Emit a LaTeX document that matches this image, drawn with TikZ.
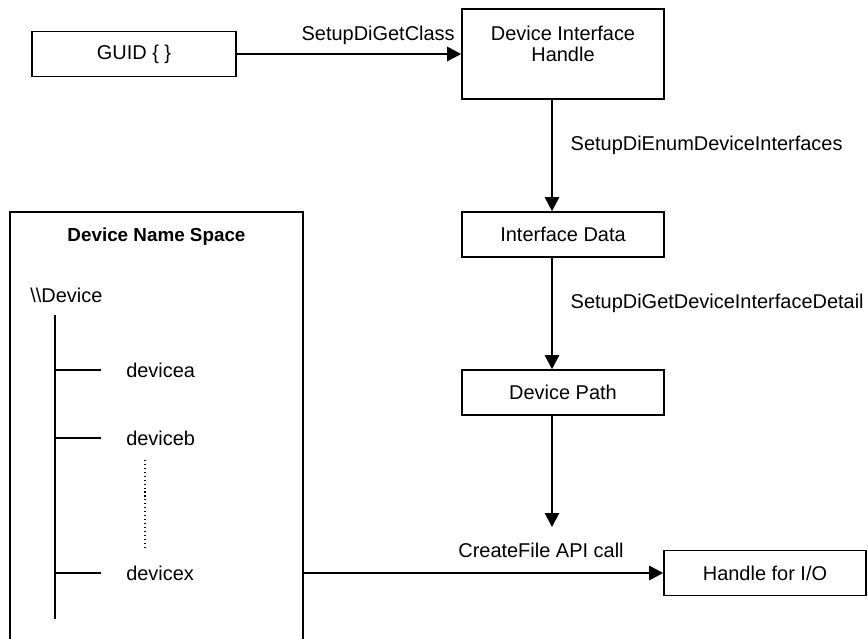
\documentclass[tikz,border=0pt]{standalone}
\usepackage{fontspec}
\setmainfont{Liberation Sans}
\usepackage{tikz}
\usetikzlibrary{positioning,arrows.meta}
\tikzstyle{block}=[draw, line width=1.2pt, minimum width=5.05cm, minimum height=1.125cm, inner sep=0pt]
\tikzstyle{flow}=[-{Triangle[length=0.35cm,width=0.36cm]}, line width=1.2pt]
\tikzstyle{entry}=[anchor=west, inner sep=0pt]
\tikzstyle{branch}=[line width=1.2pt]

\begin{document}
\begin{tikzpicture}[font=\fontsize{14.2}{15.6}\selectfont]
    \useasboundingbox (0,0) rectangle (21.7,15.95);

    \node[block, minimum width=5.1cm] (guid) at (3.35,14.6) {GUID \{ \}};
    \node[block, minimum height=2.25cm, align=center] (dih) at (14.075,14.6) {Device Interface\\Handle\\[-1pt]\mbox{}};
    \node[block] (idata) at (14.075,10.0875) {Interface Data};
    \node[block] (dpath) at (14.075,6.1375) {Device Path};
    \node[block] (hio) at (19.125,1.625) {Handle for I/O};
    \coordinate (cfend) at (13.8,2.775);

    % name space box, runs off the bottom of the page
    \node[draw, line width=1.2pt, minimum width=7.325cm, minimum height=11cm] (dns) at (3.9125,5.15) {};
    \node[font=\fontsize{13.4}{16}\selectfont\bfseries] (title) at ([yshift=-0.625cm]dns.north) {Device Name Space};
    \node[entry] (root) at (0.75,8.575) {\textbackslash\textbackslash Device};
    \node[entry] (devicea) at (3.15,6.7) {devicea};
    \node[entry] (deviceb) at (3.15,5.0) {deviceb};
    \node[entry] (devicex) at (3.15,1.625) {devicex};

    \coordinate (trunk) at (1.375,8.075);
    \draw[branch] (trunk) -- (1.375,0.475);
    \foreach \d in {devicea,deviceb,devicex}
        \draw[branch] (\d.west -| trunk) -- ([xshift=-0.625cm]\d.west);
    \draw[dotted, line width=0.8pt] (3.625,4.45) -- (3.625,2.275);

    \draw[flow] (guid) -- node[pos=0.63, above=0.1cm] {SetupDiGetClass} (dih);
    \draw[flow] ([xshift=-0.275cm]dih.south) -- node[pos=0.41, right=0.33cm] {SetupDiEnumDeviceInterfaces} ([xshift=-0.275cm]idata.north);
    \draw[flow] ([xshift=-0.275cm]idata.south) -- node[pos=0.41, right=0.33cm] {SetupDiGetDeviceInterfaceDetail} ([xshift=-0.275cm]dpath.north);
    \draw[flow] ([xshift=-0.275cm]dpath.south) -- (cfend);
    \draw[flow] (devicex -| dns.east) -- node[pos=0.66, above=0.25cm] {CreateFile API call} (hio);
\end{tikzpicture}
\end{document}
